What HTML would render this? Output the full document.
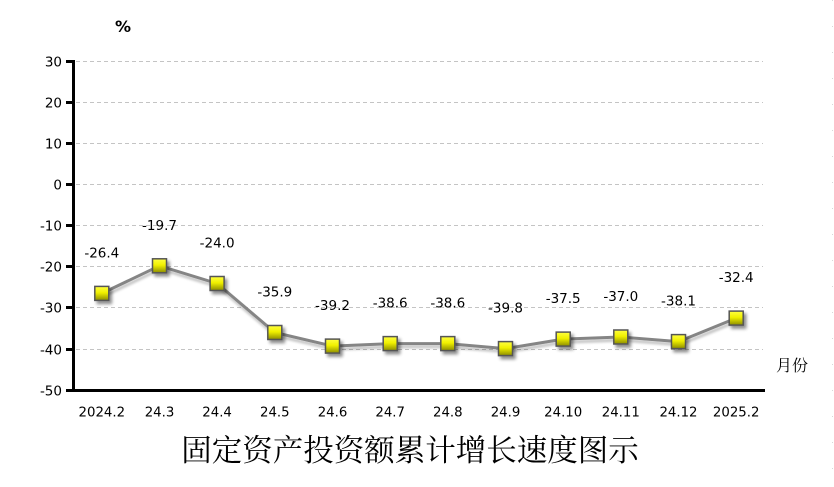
<!DOCTYPE html>
<html>
<head>
<meta charset="utf-8">
<style>
html,body{margin:0;padding:0;background:#fff;}
svg{display:block;}
text{font-family:"DejaVu Sans","Liberation Sans",sans-serif;}
</style>
</head>
<body>
<svg width="834" height="487" viewBox="0 0 834 487" xmlns="http://www.w3.org/2000/svg">
<defs>
<linearGradient id="yg" x1="0" y1="0" x2="0" y2="1">
<stop offset="0" stop-color="#ffff40"/>
<stop offset="0.45" stop-color="#f0f000"/>
<stop offset="1" stop-color="#8c8c00"/>
</linearGradient>
<filter id="sh" x="-50%" y="-50%" width="200%" height="200%">
<feGaussianBlur in="SourceAlpha" stdDeviation="1.5"/>
<feOffset dx="2.5" dy="3" result="b"/>
<feComponentTransfer><feFuncA type="linear" slope="0.45"/></feComponentTransfer>
<feMerge><feMergeNode/><feMergeNode in="SourceGraphic"/></feMerge>
</filter>
<filter id="lsh" x="-10%" y="-50%" width="120%" height="200%">
<feGaussianBlur in="SourceAlpha" stdDeviation="1.2"/>
<feOffset dx="1" dy="3"/>
<feComponentTransfer><feFuncA type="linear" slope="0.25"/></feComponentTransfer>
<feMerge><feMergeNode/><feMergeNode in="SourceGraphic"/></feMerge>
</filter>
</defs>

<line x1="832.5" y1="0" x2="832.5" y2="487" stroke="#d8d8d8" stroke-width="1" stroke-dasharray="1,25"/>

<g stroke="#c4c4c4" stroke-width="1" stroke-dasharray="4,3">
<line x1="76" y1="61.5" x2="763" y2="61.5"/>
<line x1="76" y1="102.5" x2="763" y2="102.5"/>
<line x1="76" y1="143.5" x2="763" y2="143.5"/>
<line x1="76" y1="184.5" x2="763" y2="184.5"/>
<line x1="76" y1="225.5" x2="763" y2="225.5"/>
<line x1="76" y1="266.5" x2="763" y2="266.5"/>
<line x1="76" y1="307.5" x2="763" y2="307.5"/>
<line x1="76" y1="349.5" x2="763" y2="349.5"/>
</g>

<g stroke="#000" stroke-width="3">
<line x1="73.5" y1="60" x2="73.5" y2="392"/>
<line x1="72" y1="390.5" x2="765" y2="390.5"/>
<line x1="66" y1="61.5" x2="74" y2="61.5"/>
<line x1="66" y1="102.5" x2="74" y2="102.5"/>
<line x1="66" y1="143.5" x2="74" y2="143.5"/>
<line x1="66" y1="184.5" x2="74" y2="184.5"/>
<line x1="66" y1="225.5" x2="74" y2="225.5"/>
<line x1="66" y1="266.5" x2="74" y2="266.5"/>
<line x1="66" y1="307.5" x2="74" y2="307.5"/>
<line x1="66" y1="349.5" x2="74" y2="349.5"/>
<line x1="66" y1="390.5" x2="74" y2="390.5"/>
</g>

<g font-size="13.5" fill="#000" text-anchor="end">
<text x="62" y="66.5">30</text>
<text x="62" y="107.5">20</text>
<text x="62" y="148.5">10</text>
<text x="62" y="189.5">0</text>
<text x="62" y="230.5">-10</text>
<text x="62" y="271.5">-20</text>
<text x="62" y="312.5">-30</text>
<text x="62" y="354.5">-40</text>
<text x="62" y="395.5">-50</text>
</g>

<g font-size="13.3" fill="#000" text-anchor="middle">
<text x="101.8" y="416.5">2024.2</text>
<text x="159.5" y="416.5">24.3</text>
<text x="217.1" y="416.5">24.4</text>
<text x="274.8" y="416.5">24.5</text>
<text x="332.5" y="416.5">24.6</text>
<text x="390.2" y="416.5">24.7</text>
<text x="447.8" y="416.5">24.8</text>
<text x="505.5" y="416.5">24.9</text>
<text x="563.2" y="416.5">24.10</text>
<text x="620.8" y="416.5">24.11</text>
<text x="678.5" y="416.5">24.12</text>
<text x="736.2" y="416.5">2025.2</text>
</g>

<polyline filter="url(#lsh)" fill="none" stroke="#858585" stroke-width="3" stroke-linejoin="round"
points="101.8,293.4 159.5,265.8 217.1,283.5 274.8,332.5 332.5,346.1 390.2,343.6 447.8,343.6 505.5,348.6 563.2,339.1 620.8,337.0 678.5,341.6 736.2,318.1"/>

<g fill="url(#yg)" stroke="#555" stroke-width="1.5" filter="url(#sh)">
<rect x="94.8" y="286.4" width="14" height="14"/>
<rect x="152.5" y="258.8" width="14" height="14"/>
<rect x="210.1" y="276.5" width="14" height="14"/>
<rect x="267.8" y="325.5" width="14" height="14"/>
<rect x="325.5" y="339.1" width="14" height="14"/>
<rect x="383.2" y="336.6" width="14" height="14"/>
<rect x="440.8" y="336.6" width="14" height="14"/>
<rect x="498.5" y="341.6" width="14" height="14"/>
<rect x="556.2" y="332.1" width="14" height="14"/>
<rect x="613.8" y="330.0" width="14" height="14"/>
<rect x="671.5" y="334.6" width="14" height="14"/>
<rect x="729.2" y="311.1" width="14" height="14"/>
</g>

<g font-size="13.5" fill="#000" text-anchor="middle">
<text x="101.8" y="257.5">-26.4</text>
<text x="159.5" y="229.8">-19.7</text>
<text x="217.1" y="247.5">-24.0</text>
<text x="274.8" y="296.5">-35.9</text>
<text x="332.5" y="310.1">-39.2</text>
<text x="390.2" y="307.6">-38.6</text>
<text x="447.8" y="307.6">-38.6</text>
<text x="505.5" y="312.6">-39.8</text>
<text x="563.2" y="303.1">-37.5</text>
<text x="620.8" y="301.0">-37.0</text>
<text x="678.5" y="305.6">-38.1</text>
<text x="736.2" y="282.1">-32.4</text>
</g>

<text x="123" y="32" font-size="16" font-weight="bold" text-anchor="middle">%</text>
<text x="792" y="371" font-size="16" text-anchor="middle" style="font-family:'Liberation Serif','Noto Serif CJK SC',serif;">月份</text>

<text x="410" y="461" font-size="30.5" text-anchor="middle" style="font-family:'Liberation Serif','Noto Serif CJK SC',serif;">固定资产投资额累计增长速度图示</text>
</svg>
</body>
</html>
